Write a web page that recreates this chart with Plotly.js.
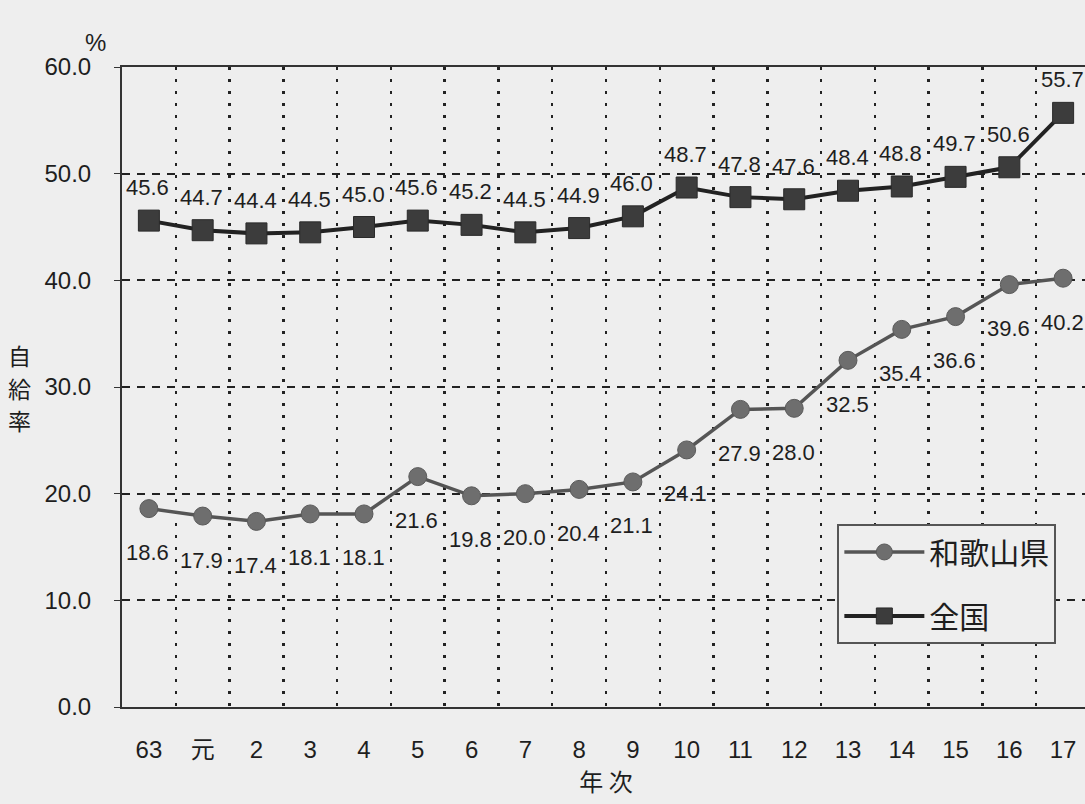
<!DOCTYPE html>
<html>
<head>
<meta charset="utf-8">
<script src="https://cdn.plot.ly/plotly-3.0.1.min.js"></script>
<style>
html,body{margin:0;padding:0;overflow:hidden;background:#eeeeee;}
#chart{width:1090px;height:804px;}
</style>
</head>
<body>
<div id="chart"></div>
<script>
const years = ['63','元','2','3','4','5','6','7','8','9','10','11','12','13','14','15','16','17'];
const wakayama = [18.6,17.9,17.4,18.1,18.1,21.6,19.8,20.0,20.4,21.1,24.1,27.9,28.0,32.5,35.4,36.6,39.6,40.2];
const zenkoku = [45.6,44.7,44.4,44.5,45.0,45.6,45.2,44.5,44.9,46.0,48.7,47.8,47.6,48.4,48.8,49.7,50.6,55.7];
const yTicks = [0,10,20,30,40,50,60];
const yTitleChars = ['自','給','率'];

const FONT = '"Liberation Sans", Arial, "Noto Sans CJK JP", sans-serif';
const JFONT = '"Noto Sans CJK JP", "Liberation Sans", sans-serif';

const traces = [
  {
    type:'scatter', mode:'lines+markers', name:'和歌山県', legendgroup:'a',
    x: years, y: wakayama,
    line:{color:'#555555', width:3.5},
    marker:{symbol:'circle', size:18, color:'#6e6e6e', line:{color:'#5a5a5a', width:1}}
  },
  {
    type:'scatter', mode:'lines+markers', name:'全国', legendgroup:'b',
    x: years, y: zenkoku,
    line:{color:'#222222', width:4},
    marker:{symbol:'square', size:21, color:'#3c3c3c', line:{color:'#2a2a2a', width:1}}
  }
];

const annotations = [];
years.forEach((c,i)=>{
  annotations.push({x:i, y:zenkoku[i], text:zenkoku[i].toFixed(1), showarrow:false,
    yshift:33, xshift:-1, font:{family:FONT, size:22, color:'#1e1e1e'}});
  annotations.push({x:i, y:wakayama[i], text:wakayama[i].toFixed(1), showarrow:false,
    yshift:-44, xshift:-1, font:{family:FONT, size:22, color:'#1e1e1e'}});
});
annotations.push({xref:'paper', yref:'paper', x:-0.014, y:1.014, xanchor:'right', yanchor:'bottom',
  text:'%', showarrow:false, font:{family:FONT, size:24, color:'#1e1e1e'}});
yTitleChars.forEach((ch,k)=>{
  annotations.push({xref:'paper', yref:'paper', x:-0.12, y:0.55 - k*0.051, xanchor:'left', yanchor:'middle',
    text:ch, showarrow:false, font:{family:JFONT, size:23, color:'#1e1e1e'}});
});

const layout = {
  width:1090, height:804,
  margin:{l:122, r:0, t:67, b:97},
  paper_bgcolor:'#eeeeee', plot_bgcolor:'#eeeeee',
  showlegend:true,
  legend:{x:0.739, y:0.286, xanchor:'left', yanchor:'top',
    bgcolor:'#eeeeee', bordercolor:'#555555', borderwidth:2,
    font:{family:JFONT, size:30, color:'#1e1e1e'},
    traceorder:'grouped', tracegroupgap:22, itemwidth:80},
  xaxis:{type:'category', range:[-0.5,17.5], tickson:'boundaries',
    showgrid:true, gridcolor:'#222222', gridwidth:2.5, griddash:'3px,9px',
    showline:true, linecolor:'#333333', linewidth:2, mirror:true,
    ticks:'', ticklabelstandoff:20,
    tickfont:{family:FONT, size:24, color:'#1e1e1e'},
    title:{text:'年 次', font:{family:JFONT, size:24, color:'#1e1e1e'}, standoff:10},
    zeroline:false},
  yaxis:{range:[0,60], tickvals:yTicks, ticktext:yTicks.map(v=>v.toFixed(1)),
    showgrid:true, gridcolor:'#222222', gridwidth:2, griddash:'8px,7px',
    showline:true, linecolor:'#333333', linewidth:2, mirror:true,
    ticks:'outside', ticklen:6, tickcolor:'#333333', ticklabelstandoff:18,
    tickfont:{family:FONT, size:24, color:'#1e1e1e'},
    zeroline:false},
  annotations: annotations
};

Plotly.newPlot('chart', traces, layout, {displayModeBar:false, staticPlot:true});
</script>
</body>
</html>
